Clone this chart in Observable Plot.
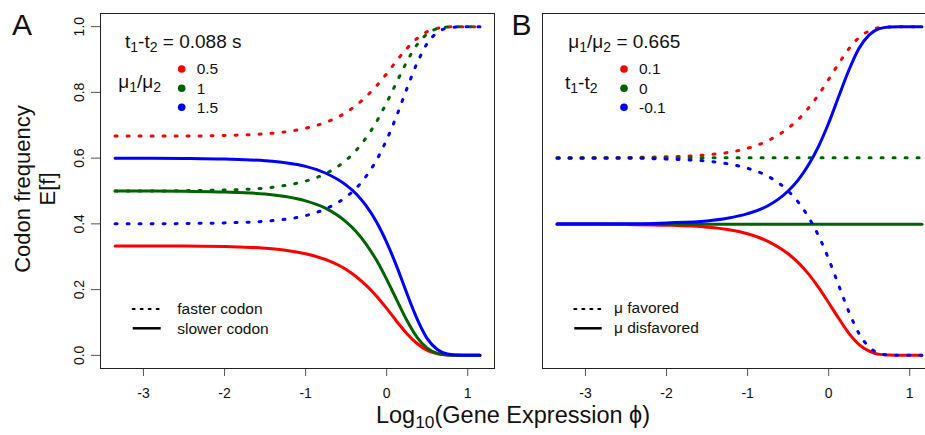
<!DOCTYPE html>
<html>
<head>
<meta charset="utf-8">
<script src="https://cdn.jsdelivr.net/npm/d3@7"></script>
<script src="https://cdn.jsdelivr.net/npm/@observablehq/plot@0.6"></script>
<style>
  body { margin: 0; background: white; }
  #chart { position: relative; width: 925px; height: 435px; overflow: hidden; background: white; }
  #chart svg { position: absolute; top: 0; }
</style>
</head>
<body>
<div id="chart"></div>
<script>
// ---------- data ----------
const logPhi = [-3.35, -3, -2.5, -2, -1.5, -1.25, -1, -0.75, -0.5, -0.375, -0.25, -0.125, 0, 0.125, 0.25, 0.375, 0.5, 0.625, 0.75, 0.875, 1, 1.15];
const xTicks = [-3, -2, -1, 0, 1];
const yTicks = [0, 0.2, 0.4, 0.6, 0.8, 1.0];

// Panel A: t1-t2 = 0.088 s, mu1/mu2 = 0.5, 1, 1.5
const aRatios = ["0.5", "1", "1.5"];
const aRedFast   = [0.667,0.667,0.667,0.669,0.674,0.680,0.691,0.709,0.739,0.761,0.788,0.820,0.857,0.897,0.934,0.964,0.985,0.995,0.999,1,1,1];
const aRedSlow   = [0.333,0.333,0.333,0.331,0.326,0.320,0.309,0.291,0.261,0.239,0.212,0.180,0.143,0.103,0.066,0.036,0.015,0.005,0.001,0,0,0];
const aGreenFast = [0.500,0.500,0.501,0.503,0.509,0.517,0.530,0.553,0.594,0.624,0.663,0.711,0.769,0.832,0.894,0.945,0.978,0.994,0.999,1,1,1];
const aGreenSlow = [0.500,0.500,0.499,0.497,0.491,0.483,0.470,0.447,0.406,0.376,0.337,0.289,0.231,0.168,0.106,0.055,0.022,0.006,0.001,0,0,0];
const aBlueFast  = [0.400,0.400,0.401,0.403,0.408,0.414,0.425,0.446,0.482,0.509,0.546,0.594,0.656,0.730,0.812,0.889,0.949,0.982,0.996,0.999,1,1];
const aBlueSlow  = [0.600,0.600,0.599,0.597,0.592,0.586,0.575,0.554,0.518,0.491,0.454,0.406,0.344,0.270,0.188,0.111,0.051,0.018,0.004,0.001,0,0];

// Panel B: mu1/mu2 = 0.665, t1-t2 = 0.1, 0, -0.1
const bDiffs = ["0.1", "0", "-0.1"];
const bRedFav    = [0.601,0.601,0.602,0.604,0.610,0.617,0.630,0.653,0.691,0.718,0.752,0.793,0.840,0.888,0.933,0.967,0.987,0.997,0.999,1,1,1];
const bRedDis    = [0.399,0.399,0.398,0.396,0.390,0.383,0.370,0.347,0.309,0.282,0.248,0.207,0.160,0.112,0.067,0.033,0.013,0.003,0.001,0,0,0];
const bGreenFav  = [0.601,0.601,0.601,0.601,0.601,0.601,0.601,0.601,0.601,0.601,0.601,0.601,0.601,0.601,0.601,0.601,0.601,0.601,0.601,0.601,0.601,0.601];
const bGreenDis  = [0.399,0.399,0.399,0.399,0.399,0.399,0.399,0.399,0.399,0.399,0.399,0.399,0.399,0.399,0.399,0.399,0.399,0.399,0.399,0.399,0.399,0.399];
const bBlueFav   = [0.600,0.600,0.600,0.597,0.591,0.583,0.569,0.545,0.500,0.466,0.421,0.364,0.293,0.212,0.132,0.066,0.025,0.006,0.001,0,0,0];
const bBlueDis   = [0.400,0.400,0.400,0.403,0.409,0.417,0.431,0.455,0.500,0.534,0.579,0.636,0.707,0.788,0.868,0.934,0.975,0.994,0.999,1,1,1];

const colors = ["#ff0000", "#006400", "#0000ff"];
const FONT = "'Liberation Sans', Arial, Helvetica, sans-serif";

// ---------- helpers ----------
const rows = (vals) => logPhi.map((x, i) => ({x, y: vals[i]}));
function curveMarks(pairs) {
  const marks = [];
  pairs.forEach(([dash, solid], i) => {
    marks.push(Plot.line(rows(dash), {x: "x", y: "y", stroke: colors[i], strokeWidth: 3, strokeDasharray: "2,10", strokeLinecap: "round", curve: "monotone-x"}));
    marks.push(Plot.line(rows(solid), {x: "x", y: "y", stroke: colors[i], strokeWidth: 3, strokeLinecap: "round", curve: "monotone-x"}));
  });
  return marks;
}
function rich(sel, x, y, parts, size, anchor = "start") {
  const t = sel.append("text").attr("x", x).attr("y", y)
    .attr("font-size", size).attr("font-family", FONT).attr("fill", "#111")
    .attr("text-anchor", anchor);
  let down = false;
  for (const p of parts) {
    if (typeof p === "string") {
      const s = t.append("tspan").text(p);
      if (down) { s.attr("dy", -size * 0.22); down = false; }
    } else {
      t.append("tspan").text(p.sub).attr("font-size", size * 0.74).attr("dy", size * 0.22);
      down = true;
    }
  }
  return t;
}
function plainText(sel, x, y, txt, size) {
  return sel.append("text").attr("x", x).attr("y", y).attr("font-size", size)
    .attr("font-family", FONT).attr("fill", "#111").attr("text-anchor", "start").text(txt);
}
function legendBlock(svg, ox, dotX, labels, lineX0, lineX1, lineTexts, textX, textYs) {
  const g = svg.append("g");
  labels.forEach((lab, i) => {
    const cy = [69, 88.3, 107.3][i];
    g.append("circle").attr("cx", dotX - ox).attr("cy", cy).attr("r", 3.8).attr("fill", colors[i]);
    plainText(g, dotX - ox + 15, cy + 5.4, lab, 15.5);
  });
  g.append("line").attr("x1", lineX0 - ox).attr("x2", lineX1 - ox).attr("y1", 309).attr("y2", 309)
    .attr("stroke", "#000").attr("stroke-width", 2).attr("stroke-dasharray", "2,6").attr("stroke-linecap", "round");
  g.append("line").attr("x1", lineX0 - ox).attr("x2", lineX1 - ox).attr("y1", 328.3).attr("y2", 328.3)
    .attr("stroke", "#000").attr("stroke-width", 2.5);
  lineTexts.forEach((txt, i) => plainText(g, textX - ox, textYs[i], txt, 15.5));
}

const common = {
  height: 435, marginTop: 13, marginBottom: 67,
  x: {domain: [-3.53, 1.33]},
  style: {fontFamily: FONT, fontSize: "14px", background: "transparent", overflow: "visible", color: "#111"}
};
const xAxis = () => Plot.axisX({ticks: xTicks, tickSize: 8, tickPadding: 12, tickFormat: d => String(d), label: null, stroke: "#555", fill: "#111", fontSize: 14});

// ---------- Panel A ----------
const plotA = Plot.plot({
  ...common, width: 500, marginLeft: 100, marginRight: 6,
  y: {domain: [-0.04, 1.04]},
  marks: [
    xAxis(),
    Plot.axisY({ticks: yTicks, tickSize: 9, tickPadding: 8, tickRotate: -90, tickFormat: d => d.toFixed(1), label: null, stroke: "#555", fill: "#111", fontSize: 14}),
    ...curveMarks([[aRedFast, aRedSlow], [aGreenFast, aGreenSlow], [aBlueFast, aBlueSlow]]),
    Plot.frame({stroke: "#222", strokeWidth: 1})
  ]
});
plotA.style.left = "0px";

// ---------- Panel B ----------
const plotB = Plot.plot({
  ...common, width: 450, marginLeft: 42, marginRight: 14,
  y: {domain: [-0.04, 1.04], axis: null},
  marks: [
    xAxis(),
    ...curveMarks([[bRedFav, bRedDis], [bGreenFav, bGreenDis], [bBlueFav, bBlueDis]]),
    Plot.frame({stroke: "#222", strokeWidth: 1})
  ]
});
plotB.style.left = "500px";

const chart = document.getElementById("chart");
chart.appendChild(plotA);
chart.appendChild(plotB);

// annotations panel A
const sA = d3.select(plotA);
rich(sA, 125, 48.3, ["t", {sub: "1"}, "-t", {sub: "2"}, " = 0.088 s"], 19);
rich(sA, 118.3, 88, ["\u03bc", {sub: "1"}, "/\u03bc", {sub: "2"}], 19);
legendBlock(sA, 0, 181.7, aRatios, 132.7, 160.7, ["faster codon", "slower codon"], 177.3, [314, 334]);

// annotations panel B
const sB = d3.select(plotB);
rich(sB, 68.3, 48, ["\u03bc", {sub: "1"}, "/\u03bc", {sub: "2"}, " = 0.665"], 19);
rich(sB, 65, 89, ["t", {sub: "1"}, "-t", {sub: "2"}], 19);
legendBlock(sB, 500, 624, bDiffs, 574.3, 601.7, ["\u03bc favored", "\u03bc disfavored"], 614, [313, 333]);

// shared labels
const ov = d3.select(chart).append("svg").attr("width", 925).attr("height", 435).style("left", "0px").style("pointer-events", "none");
plainText(ov, 12, 35, "A", 30);
plainText(ov, 511.5, 35, "B", 30);
ov.append("text").attr("transform", "translate(30,189) rotate(-90)").attr("text-anchor", "middle")
  .attr("font-size", 22).attr("font-family", FONT).attr("fill", "#111").text("Codon frequency");
ov.append("text").attr("transform", "translate(54.5,189) rotate(-90)").attr("text-anchor", "middle")
  .attr("font-size", 22).attr("font-family", FONT).attr("fill", "#111").text("E[f]");
rich(ov, 513, 423, ["Log", {sub: "10"}, "(Gene Expression \u03d5)"], 23.5, "middle");
</script>
</body>
</html>
